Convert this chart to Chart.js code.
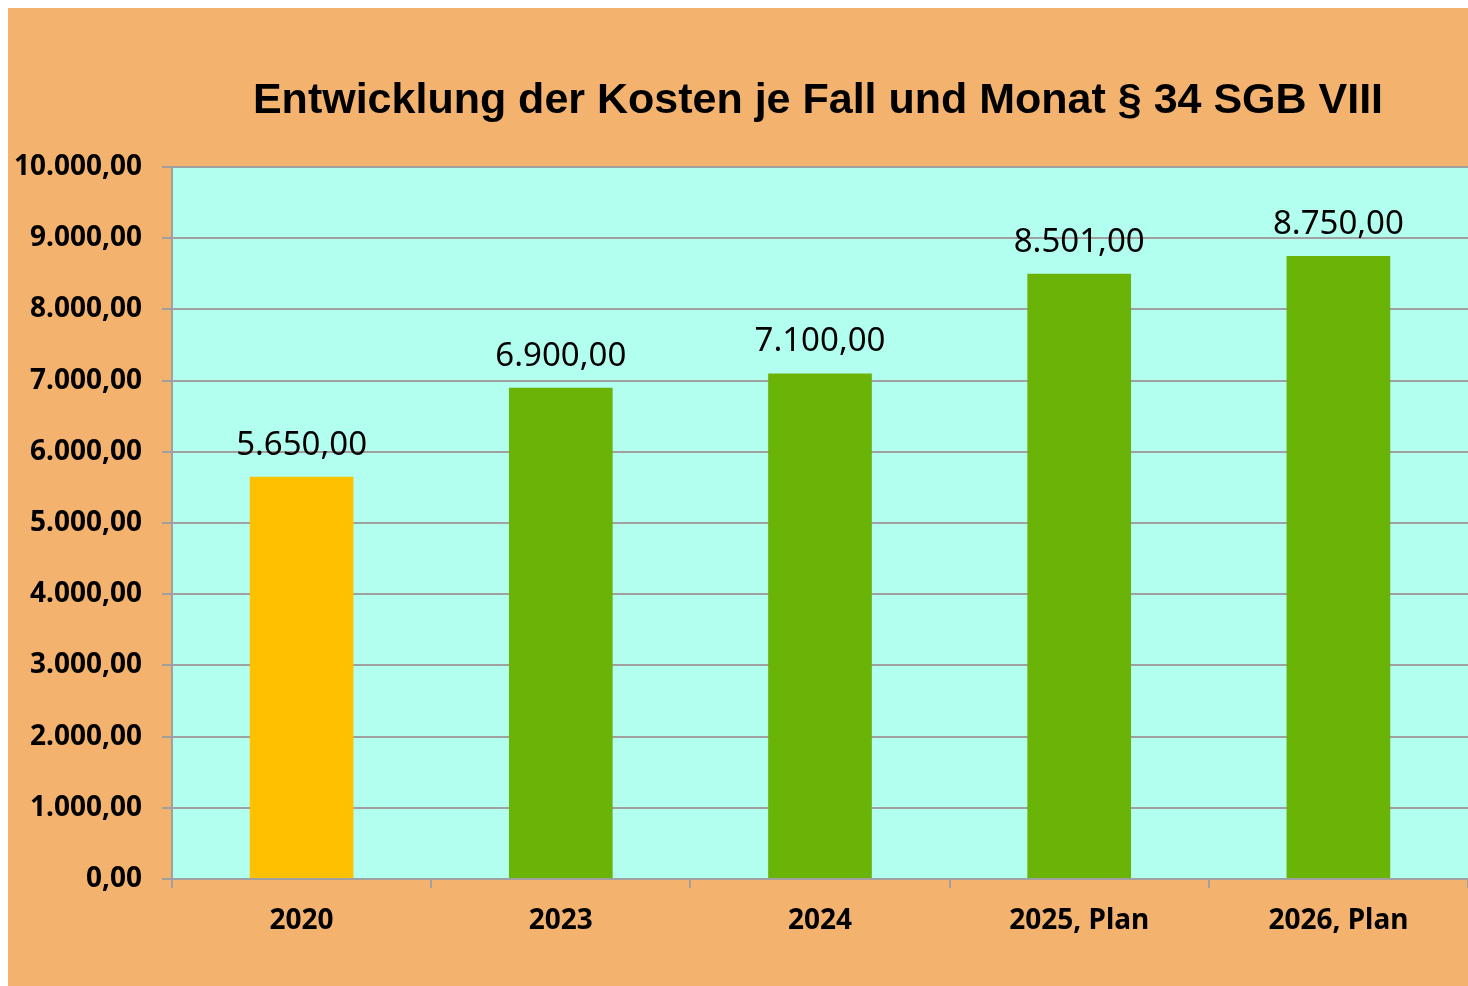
<!DOCTYPE html>
<html>
<head>
<meta charset="utf-8">
<script src="https://cdn.jsdelivr.net/npm/chart.js@4"></script>
<style>
  html, body { margin: 0; padding: 0; background: #fff; }
  .box { position: absolute; left: 8px; top: 8px; width: 1460px; height: 978px; background: #F4B26F; }
</style>
</head>
<body>
<div class="box"><canvas id="myChart" width="1460" height="978"></canvas></div>
<script>
const years = ["2020", "2023", "2024", "2025, Plan", "2026, Plan"];
const costs = [5650, 6900, 7100, 8501, 8750];
const barColors = ["#FFC000", "#6AB307", "#6AB307", "#6AB307", "#6AB307"];
const yTicks = [0, 1000, 2000, 3000, 4000, 5000, 6000, 7000, 8000, 9000, 10000];
const chartTitle = "Entwicklung der Kosten je Fall und Monat § 34 SGB VIII";

function fmt(v) {
  const parts = Number(v).toFixed(2).split(".");
  parts[0] = parts[0].replace(/\B(?=(\d{3})+(?!\d))/g, ".");
  return parts.join(",");
}

const plotBg = {
  id: "plotBg",
  beforeDraw(chart) {
    const { ctx, chartArea: a } = chart;
    ctx.save();
    ctx.fillStyle = "#B3FFEF";
    ctx.fillRect(a.left, a.top, a.right - a.left, a.bottom - a.top);
    // title is centred over the plot area, not the whole canvas
    ctx.fillStyle = "#000";
    ctx.font = "bold 43px 'Liberation Sans', Arial, sans-serif";
    ctx.textAlign = "center";
    ctx.textBaseline = "middle";
    ctx.fillText(chartTitle, (a.left + a.right) / 2 - 2, 93);
    ctx.restore();
  }
};

const valueLabels = {
  id: "valueLabels",
  afterDatasetsDraw(chart) {
    const { ctx } = chart;
    const meta = chart.getDatasetMeta(0);
    ctx.save();
    ctx.font = "33px 'Noto Sans', sans-serif";
    ctx.fillStyle = "#000";
    ctx.textAlign = "center";
    ctx.textBaseline = "alphabetic";
    meta.data.forEach((bar, i) => {
      ctx.fillText(fmt(costs[i]), bar.x, bar.y - 22);
    });
    ctx.restore();
  }
};

const ctx = document.getElementById("myChart").getContext("2d");
new Chart(ctx, {
  type: "bar",
  data: {
    labels: years,
    datasets: [{
      data: costs,
      backgroundColor: barColors,
      categoryPercentage: 1,
      barPercentage: 0.4
    }]
  },
  options: {
    responsive: false,
    animation: false,
    layout: { padding: { left: 0, right: 0, top: 159, bottom: 0 } },
    plugins: {
      legend: { display: false },
      tooltip: { enabled: false },
      title: { display: false }
    },
    scales: {
      x: {
        grid: { drawOnChartArea: false, drawTicks: true, tickLength: 9, color: "#A0A0A0", lineWidth: 2 },
        border: { color: "#A0A0A0", width: 2 },
        ticks: {
          color: "#000",
          padding: 16,
          font: { family: "'Noto Sans', sans-serif", size: 28, weight: "bold" }
        },
        afterFit(scale) { scale.height = 107; }
      },
      y: {
        min: 0,
        max: 10000,
        afterBuildTicks(scale) { scale.ticks = yTicks.map(v => ({ value: v })); },
        grid: { color: "#A0A0A0", lineWidth: 2, tickLength: 10 },
        border: { color: "#A0A0A0", width: 2 },
        ticks: {
          color: "#000",
          padding: 20,
          font: { family: "'Noto Sans', sans-serif", size: 28, weight: "bold" },
          callback: v => fmt(v)
        },
        afterFit(scale) { scale.width = 164; }
      }
    }
  },
  plugins: [plotBg, valueLabels]
});
</script>
</body>
</html>
